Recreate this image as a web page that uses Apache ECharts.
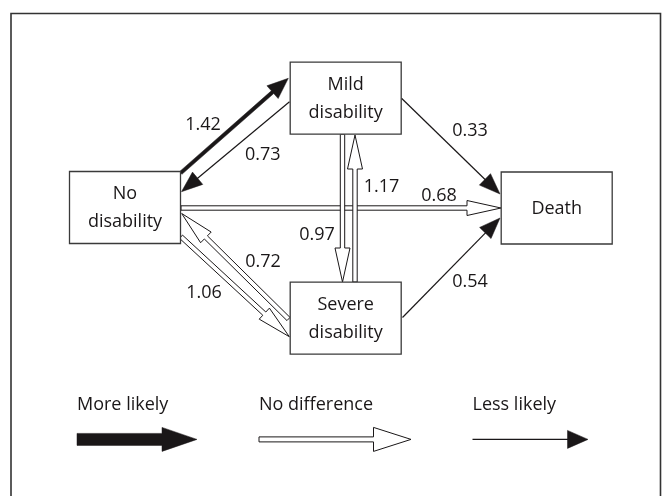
<!DOCTYPE html>
<html>
<head>
<meta charset="utf-8">
<script src="https://cdn.jsdelivr.net/npm/echarts@6/dist/echarts.min.js"></script>
<style>html,body{margin:0;padding:0;background:#fff}#c{width:669px;height:496px}</style>
</head>
<body>
<div id="c"></div>
<script>
// ---- data ----
const stateNames = ['No disability', 'Mild disability', 'Severe disability', 'Death'];
const stateLabels = ['No\ndisability', 'Mild\ndisability', 'Severe\ndisability', 'Death'];
const transFrom = [0, 1, 1, 0, 2, 1, 2, 2, 0];
const transTo   = [1, 0, 3, 3, 3, 2, 1, 0, 2];
const transValues = [1.42, 0.73, 0.33, 0.68, 0.54, 0.97, 1.17, 0.72, 1.06];
const transType = ['more', 'less', 'less', 'none', 'less', 'none', 'none', 'none', 'none'];
const legendLabels = ['More likely', 'No difference', 'Less likely'];
const legendTypes = ['more', 'none', 'less'];

// ---- layout (diagram coordinates) ----
const layout = {
  nodeCenter: [[125, 207.5], [345.7, 98.2], [345.7, 318.2], [556.7, 208]],
  boxW: 111, boxH: 72,
  // anchor offsets from node centres: [startDx, startDy, endDx, endDy]
  anchors: [
    [55.7, -34.5, -57.4, -19.9],
    [-56.2, 3.5, 56.5, -15.8],
    [55.8, 0.1, -56.7, -14],
    [56, 0.5, -55.7, 0],
    [56.8, -0.7, -56.7, 10],
    [-3.2, 36, -3.2, -36.2],
    [9.3, -36.2, 9.3, 36.8],
    [-57.2, 0.8, 56.7, 6],
    [56, 29.2, -56.4, 18.5]
  ],
  labelOffset: [
    [-31.5, -0.6], [27.3, 8.3], [19.3, -15.2], [98, -12], [18.8, 13.8],
    [-25.5, 27], [26.5, -22], [27.9, -4.8], [-31.2, 6.3]
  ],
  legendTextX: [77, 259, 472.5],
  legendTextY: 404.5,
  legendArrow: [[77, 197], [259, 411], [472.5, 588]],
  legendArrowY: 439.4
};
const arrowStyle = {
  more: { w: 1.8, L: 21, h: 8.5 },
  none: { w: 2.2, L: 34, h: 7.5 },
  less: { w: 0.6, L: 21, h: 8 }
};
const legendArrowStyle = {
  more: { w: 6, L: 35, h: 12 },
  none: { w: 2.5, L: 37.5, h: 12 },
  less: { w: 0.65, L: 20.5, h: 9 }
};
const INK = '#1a1718';
const FONT = '"Open Sans", "Noto Sans", sans-serif';

function arrowShapes(S, T, type, st) {
  const dx = T[0] - S[0], dy = T[1] - S[1];
  const len = Math.hypot(dx, dy);
  const ux = dx / len, uy = dy / len, nx = -uy, ny = ux;
  const B = [T[0] - ux * st.L, T[1] - uy * st.L];
  const p = (P, k) => [P[0] + nx * k, P[1] + ny * k];
  if (type === 'less') {
    return [
      { type: 'line', shape: { x1: S[0], y1: S[1], x2: B[0] + ux * 2, y2: B[1] + uy * 2 },
        style: { stroke: INK, lineWidth: st.w * 2 } },
      { type: 'polygon', shape: { points: [p(B, st.h), T, p(B, -st.h)] },
        style: { fill: INK, stroke: INK, lineWidth: 0.5 } }
    ];
  }
  const pts = [p(S, st.w), p(B, st.w), p(B, st.h), T, p(B, -st.h), p(B, -st.w), p(S, -st.w)];
  if (type === 'more') {
    return [{ type: 'polygon', shape: { points: pts }, style: { fill: INK, stroke: INK, lineWidth: 0.5 } }];
  }
  return [{ type: 'polygon', shape: { points: pts }, style: { fill: '#fff', stroke: INK, lineWidth: 1 } }];
}

const chart = echarts.init(document.getElementById('c'), null, { renderer: 'canvas' });

const option = {
  animation: false,
  backgroundColor: '#fff',
  grid: { left: 0, right: 0, top: 0, bottom: 0 },
  xAxis: { type: 'value', min: 0, max: 669, show: false },
  yAxis: { type: 'value', min: 0, max: 496, inverse: true, show: false },
  graphic: [{
    type: 'polyline',
    shape: { points: [[11, 500], [11, 13.5], [660.5, 13.5], [660.5, 500]] },
    style: { stroke: '#333', lineWidth: 1.6, fill: null },
    z: 10
  }],
  series: [
    {
      type: 'custom',
      name: 'transitions',
      coordinateSystem: 'cartesian2d',
      data: transValues.map((v, i) => [i, v]),
      encode: { x: -1, y: -1 },
      renderItem: function (params, api) {
        const i = params.dataIndex;
        const a = layout.anchors[i];
        const c0 = layout.nodeCenter[transFrom[i]], c1 = layout.nodeCenter[transTo[i]];
        const S = api.coord([c0[0] + a[0], c0[1] + a[1]]);
        const T = api.coord([c1[0] + a[2], c1[1] + a[3]]);
        const mid = [(c0[0] + a[0] + c1[0] + a[2]) / 2, (c0[1] + a[1] + c1[1] + a[3]) / 2];
        const lo = layout.labelOffset[i];
        const L = api.coord([mid[0] + lo[0], mid[1] + lo[1]]);
        const children = arrowShapes(S, T, transType[i], arrowStyle[transType[i]]);
        children.push({
          type: 'text',
          style: { text: transValues[i].toFixed(2), x: L[0], y: L[1], fill: INK,
                   fontSize: 18, fontFamily: FONT, align: 'center', verticalAlign: 'middle' }
        });
        return { type: 'group', children: children };
      },
      z: 2
    },
    {
      type: 'custom',
      name: 'states',
      coordinateSystem: 'cartesian2d',
      data: stateNames.map((n, i) => ({ name: n, value: layout.nodeCenter[i] })),
      renderItem: function (params, api) {
        const i = params.dataIndex;
        const c = api.coord([api.value(0), api.value(1)]);
        const p0 = api.coord([api.value(0) - layout.boxW / 2, api.value(1) - layout.boxH / 2]);
        const p1 = api.coord([api.value(0) + layout.boxW / 2, api.value(1) + layout.boxH / 2]);
        return {
          type: 'group',
          children: [
            { type: 'rect', shape: { x: p0[0], y: p0[1], width: p1[0] - p0[0], height: p1[1] - p0[1] },
              style: { fill: '#fff', stroke: '#3a3a3a', lineWidth: 1.3 } },
            { type: 'text', style: { text: stateLabels[i], x: c[0], y: c[1] + 0.5, fill: INK,
                fontSize: 18, fontFamily: FONT, lineHeight: 28, align: 'center', verticalAlign: 'middle' } }
          ]
        };
      },
      z: 3
    },
    {
      type: 'custom',
      name: 'key',
      coordinateSystem: 'cartesian2d',
      data: legendLabels.map((n, i) => ({ name: n, value: [layout.legendTextX[i], layout.legendTextY] })),
      renderItem: function (params, api) {
        const i = params.dataIndex;
        const tp = api.coord([layout.legendTextX[i], layout.legendTextY]);
        const ax = layout.legendArrow[i];
        const S = api.coord([ax[0], layout.legendArrowY]);
        const T = api.coord([ax[1], layout.legendArrowY]);
        const children = arrowShapes(S, T, legendTypes[i], legendArrowStyle[legendTypes[i]]);
        children.push({ type: 'text', style: { text: legendLabels[i], x: tp[0], y: tp[1], fill: INK,
          fontSize: 18, fontFamily: FONT, align: 'left', verticalAlign: 'middle' } });
        return { type: 'group', children: children };
      },
      z: 2
    }
  ]
};
chart.setOption(option);
</script>
</body>
</html>
